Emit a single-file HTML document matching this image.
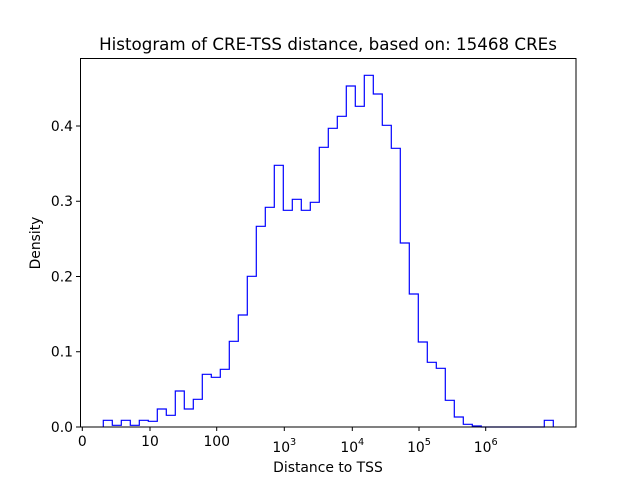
<!DOCTYPE html>
<html><head><meta charset="utf-8"><style>body{margin:0;background:#fff}svg{display:block}text{font-family:"DejaVu Sans","Liberation Sans",sans-serif;fill:#000}</style></head><body>
<svg width="640" height="480" viewBox="0 0 640 480">
<text x="328" y="50" font-size="16.7" text-anchor="middle">Histogram of CRE-TSS distance, based on: 15468 CREs</text>
<polyline fill="none" stroke="#0000ff" stroke-width="1.2" points="103.3,427 103.3,420.3 112.3,420.3 112.3,425.3 121.3,425.3 121.3,420.3 130.3,420.3 130.3,425.3 139.3,425.3 139.3,420.3 148.3,420.3 148.3,421.3 157.3,421.3 157.3,409 166.3,409 166.3,415.3 175.3,415.3 175.3,391 184.3,391 184.3,409 193.3,409 193.3,399.3 202.3,399.3 202.3,374.3 211.3,374.3 211.3,377.3 220.3,377.3 220.3,369.3 229.3,369.3 229.3,341.3 238.3,341.3 238.3,315 247.3,315 247.3,276.3 256.3,276.3 256.3,226.3 265.3,226.3 265.3,207.3 274.3,207.3 274.3,165.3 283.3,165.3 283.3,210.3 292.3,210.3 292.3,199.3 301.3,199.3 301.3,210.3 310.3,210.3 310.3,202.3 319.3,202.3 319.3,147.3 328.3,147.3 328.3,128.3 337.3,128.3 337.3,116.3 346.3,116.3 346.3,86 355.3,86 355.3,106.3 364.3,106.3 364.3,75.3 373.3,75.3 373.3,94 382.3,94 382.3,125.3 391.3,125.3 391.3,148.3 400.3,148.3 400.3,243 409.3,243 409.3,294 418.3,294 418.3,342 427.3,342 427.3,362.3 436.3,362.3 436.3,368.3 445.3,368.3 445.3,400.3 454.3,400.3 454.3,417 463.3,417 463.3,424.3 472.3,424.3 472.3,426 481.3,426 481.3,427 544.3,427 544.3,420.3 553.3,420.3 553.3,427"/>
<rect x="80.5" y="58.5" width="495.5" height="368.5" fill="none" stroke="#000" stroke-width="1"/>
<g stroke="#000" stroke-width="1">
<line x1="82.3" y1="427" x2="82.3" y2="431"/><line x1="150" y1="427" x2="150" y2="431"/><line x1="216.7" y1="427" x2="216.7" y2="431"/><line x1="284.3" y1="427" x2="284.3" y2="431"/><line x1="352.3" y1="427" x2="352.3" y2="431"/><line x1="419" y1="427" x2="419" y2="431"/><line x1="485.7" y1="427" x2="485.7" y2="431"/>
<line x1="76" y1="427" x2="80" y2="427"/><line x1="76" y1="351.75" x2="80" y2="351.75"/><line x1="76" y1="276.5" x2="80" y2="276.5"/><line x1="76" y1="201.25" x2="80" y2="201.25"/><line x1="76" y1="126" x2="80" y2="126"/>
</g>
<g font-size="13.9" text-anchor="middle">
<text x="82.3" y="446">0</text><text x="150" y="446">10</text><text x="216.7" y="446">100</text>
<text x="284.3" y="452">10<tspan font-size="9.7" dy="-7">3</tspan></text>
<text x="352.3" y="452">10<tspan font-size="9.7" dy="-7">4</tspan></text>
<text x="419" y="452">10<tspan font-size="9.7" dy="-7">5</tspan></text>
<text x="485.7" y="452">10<tspan font-size="9.7" dy="-7">6</tspan></text>
</g>
<g font-size="13.9" text-anchor="end">
<text x="73" y="432">0.0</text><text x="73" y="356.5">0.1</text><text x="73" y="281.5">0.2</text><text x="73" y="206">0.3</text><text x="73" y="131">0.4</text>
</g>
<text x="328" y="472" font-size="13.9" text-anchor="middle">Distance to TSS</text>
<text transform="translate(40,243) rotate(-90)" font-size="13.9" text-anchor="middle">Density</text>
</svg>
</body></html>
